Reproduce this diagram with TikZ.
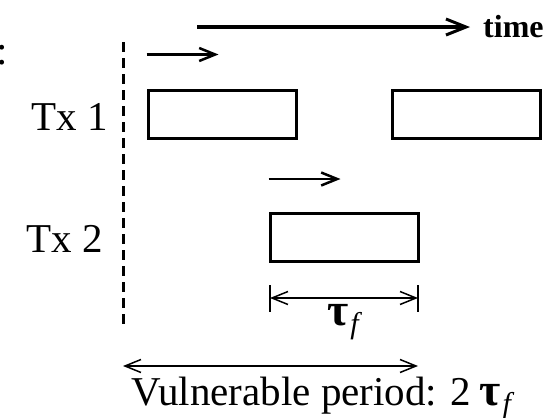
\documentclass[tikz,border=0pt]{standalone}
\usepackage{fontspec}
\setmainfont{Liberation Serif}
\usetikzlibrary{arrows.meta}

% upright tau with a lowered italic f
\newcommand{\tauf}{{\fontsize{46}{48}\selectfont\bfseries τ}\kern2pt\raisebox{-8pt}{\fontsize{30}{30}\selectfont\itshape f}}

\begin{document}
\begin{tikzpicture}[x=1pt,y=-1pt,
  frame/.style={draw, line width=3pt, minimum width=148pt, minimum height=48pt, inner sep=0pt},
  lbl/.style={font=\fontsize{41}{48}\selectfont, inner sep=0pt},
  >={Straight Barb[length=16pt,width=13pt]}]
\useasboundingbox (0,0) rectangle (552,418);
% time axis
\coordinate (t0) at (197,27);
\coordinate (t1) at (470,27);
\node[font=\fontsize{32}{36}\selectfont\bfseries, anchor=base west, inner sep=0pt] (time) at (483,37) {time};
\draw[->, line width=4.5pt, >={Straight Barb[length=20pt,width=16pt,line width=3pt]}] (t0) -- (t1);
\node[lbl, anchor=base east] (colon) at (8,64) {:};
% start instant
\coordinate (s0) at (123,42);
\coordinate (s1) at (123,325);
\draw[line width=3pt, dash pattern=on 10pt off 6pt] (s0) -- (s1);
% first station
\node[lbl, anchor=base west] (tx1) at (31,130) {Tx 1};
\node[frame] (f1a) at (222,114) {};
\node[frame] (f1b) at (466.5,114) {};
\draw[->, line width=2.5pt] (f1a.north west) ++(0,-34) coordinate (a1) -- ++(72,0);
% second station
\node[lbl, anchor=base west] (tx2) at (26,252) {Tx 2};
\node[frame] (f2) at (344,237.5) {};
\draw[->, line width=2.5pt] (f2.north west) ++(0,-33) coordinate (a2) -- ++(72,0);
% frame time
\coordinate (d0) at (270,298);
\coordinate (d1) at (418,298);
\draw[line width=1.5pt] (270,285) -- (270,312) (418,285) -- (418,312);
\draw[<->, line width=1.5pt] (d0) -- (d1);
\node[lbl, anchor=base west] (tau) at (327,325) {\tauf};
% vulnerable period
\coordinate (v0) at (123,366);
\coordinate (v1) at (418,366);
\draw[<->, line width=1.5pt] (v0) -- (v1);
\node[lbl, anchor=base west] (vuln) at (131,405) {Vulnerable period: 2\kern8pt\tauf};
\end{tikzpicture}
\end{document}
